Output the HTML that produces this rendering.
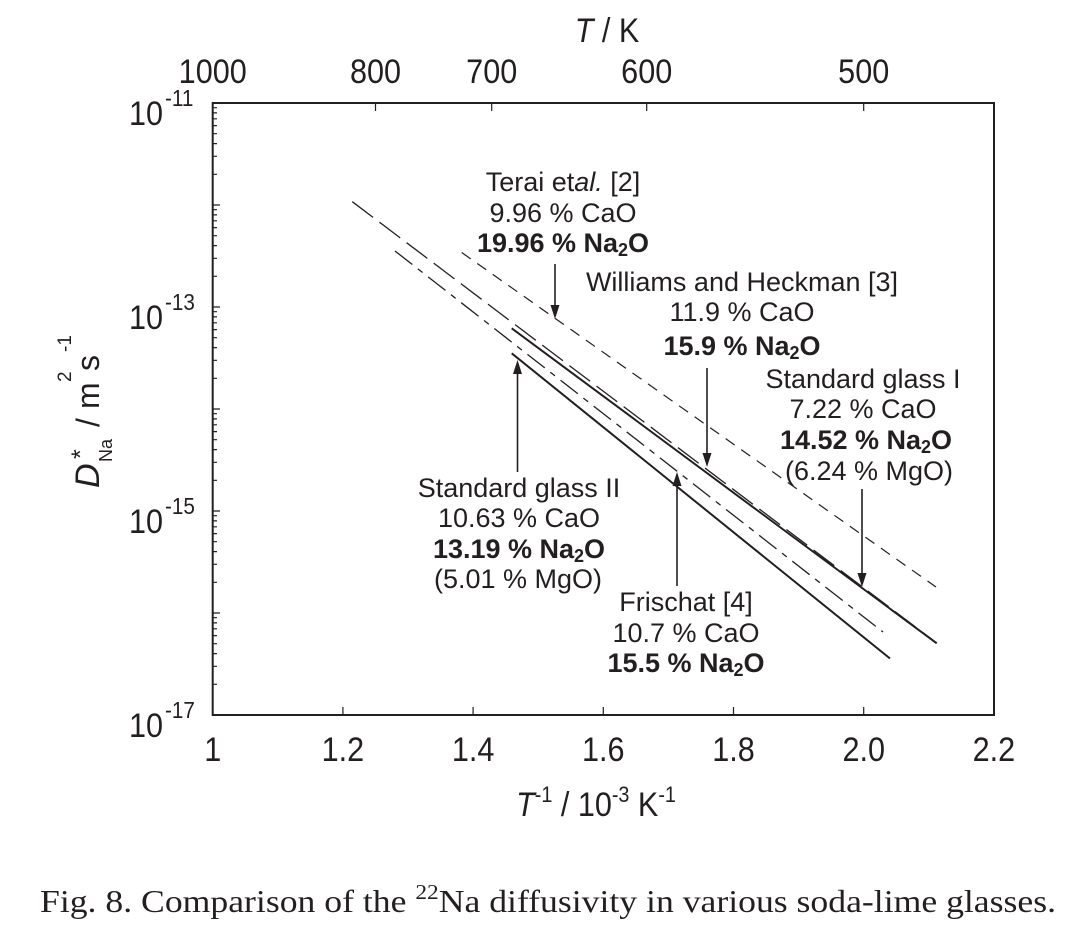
<!DOCTYPE html>
<html>
<head>
<meta charset="utf-8">
<style>
  html, body { margin: 0; padding: 0; background: #ffffff; }
  svg { display: block; }
  .ax { font-family: "Liberation Sans", Arial, sans-serif; fill: #231f20; }
  .an { font-family: "Liberation Sans", Arial, sans-serif; font-size: 27px; fill: #231f20; }
  .b { font-weight: bold; }
</style>
</head>
<body>
<svg width="1070" height="938" viewBox="0 0 1070 938" xmlns="http://www.w3.org/2000/svg">
  <rect x="0" y="0" width="1070" height="938" fill="#ffffff"/>

  <!-- frame -->
  <rect x="212.7" y="103" width="781.3" height="612" fill="none" stroke="#231f20" stroke-width="2"/>

  <!-- ticks -->
  <path stroke="#231f20" stroke-width="1.2" fill="none" d="
    M342.9 715v-8 M473.1 715v-8 M603.3 715v-8 M733.5 715v-8 M863.7 715v-8
    M375.5 103v8 M491.7 103v8 M646.7 103v8 M863.7 103v8
    M213 613h7 M213 511h7 M213 409h7 M213 307h7 M213 205h7
    M213 684.3h4 M213 666.3h4 M213 653.6h4 M213 643.7h4 M213 635.6h4 M213 628.8h4 M213 622.9h4 M213 617.7h4
    M213 582.3h4 M213 564.3h4 M213 551.6h4 M213 541.7h4 M213 533.6h4 M213 526.8h4 M213 520.9h4 M213 515.7h4
    M213 480.3h4 M213 462.3h4 M213 449.6h4 M213 439.7h4 M213 431.6h4 M213 424.8h4 M213 418.9h4 M213 413.7h4
    M213 378.3h4 M213 360.3h4 M213 347.6h4 M213 337.7h4 M213 329.6h4 M213 322.8h4 M213 316.9h4 M213 311.7h4
    M213 276.3h4 M213 258.3h4 M213 245.6h4 M213 235.7h4 M213 227.6h4 M213 220.8h4 M213 214.9h4 M213 209.7h4
    M213 174.3h4 M213 156.3h4 M213 143.6h4 M213 133.7h4 M213 125.6h4 M213 118.8h4 M213 112.9h4 M213 107.7h4
  "/>

  <!-- bottom tick labels -->
  <g class="ax" font-size="34" text-anchor="middle">
    <text transform="translate(212.7,761) scale(0.9,1)">1</text>
    <text transform="translate(342.9,761) scale(0.9,1)">1.2</text>
    <text transform="translate(473.1,761) scale(0.9,1)">1.4</text>
    <text transform="translate(603.3,761) scale(0.9,1)">1.6</text>
    <text transform="translate(733.5,761) scale(0.9,1)">1.8</text>
    <text transform="translate(863.7,761) scale(0.9,1)">2.0</text>
    <text transform="translate(993.9,761) scale(0.9,1)">2.2</text>
  </g>

  <!-- top tick labels -->
  <g class="ax" font-size="34" text-anchor="middle">
    <text transform="translate(212.7,83) scale(0.9,1)">1000</text>
    <text transform="translate(375.5,83) scale(0.9,1)">800</text>
    <text transform="translate(491.7,83) scale(0.9,1)">700</text>
    <text transform="translate(646.7,83) scale(0.9,1)">600</text>
    <text transform="translate(863.7,83) scale(0.9,1)">500</text>
  </g>

  <!-- top axis title -->
  <text class="ax" font-size="34" text-anchor="middle" transform="translate(607,42) scale(0.9,1)"><tspan font-style="italic">T</tspan> / K</text>

  <!-- left tick labels -->
  <g class="ax">
    <text font-size="34" text-anchor="end" transform="translate(163,125) scale(0.9,1)">10</text>
    <text font-size="23" text-anchor="start" transform="translate(165,106) scale(0.9,1)">-11</text>
    <text font-size="34" text-anchor="end" transform="translate(163,329) scale(0.9,1)">10</text>
    <text font-size="23" text-anchor="start" transform="translate(165,310) scale(0.9,1)">-13</text>
    <text font-size="34" text-anchor="end" transform="translate(163,533) scale(0.9,1)">10</text>
    <text font-size="23" text-anchor="start" transform="translate(165,514) scale(0.9,1)">-15</text>
    <text font-size="34" text-anchor="end" transform="translate(163,737) scale(0.9,1)">10</text>
    <text font-size="23" text-anchor="start" transform="translate(165,718) scale(0.9,1)">-17</text>
  </g>

  <!-- bottom axis title -->
  <text class="ax" font-size="34" text-anchor="middle" transform="translate(596,816) scale(0.9,1)"><tspan font-style="italic">T</tspan><tspan font-size="22" dy="-14">-1</tspan><tspan dy="14"> / 10</tspan><tspan font-size="22" dy="-14">-3</tspan><tspan dy="14"> K</tspan><tspan font-size="22" dy="-14">-1</tspan></text>

  <!-- left axis title (rotated) -->
  <g class="ax" transform="translate(99,488) rotate(-90)">
    <text x="0" y="0" font-size="34" font-style="italic">D</text>
    <text x="29" y="-10" font-size="25">*</text>
    <text x="26" y="13" font-size="18">Na</text>
    <text x="61" y="0" font-size="32">/</text>
    <text x="79" y="0" font-size="32">m</text>
    <text x="106" y="-28" font-size="19">2</text>
    <text x="117" y="0" font-size="32">s</text>
    <text x="136" y="-28" font-size="19">-1</text>
  </g>

  <!-- data lines -->
  <g fill="none" stroke="#231f20">
    <!-- Williams and Heckman: long dash -->
    <path d="M352.3 201.7 L936.7 643" stroke-width="1.3" stroke-dasharray="26 8"/>
    <!-- Terai: short dash -->
    <path d="M461.7 252.5 L936 587" stroke-width="1.2" stroke-dasharray="11 8"/>
    <!-- Frischat: dash-dot -->
    <path d="M395 251 L883 632" stroke-width="1.3" stroke-dasharray="22 7 6 7"/>
    <!-- Standard glass I: solid -->
    <path d="M511.7 328.3 L936.7 643.3" stroke-width="2"/>
    <!-- Standard glass II: solid -->
    <path d="M511.7 353.3 L890 658.5" stroke-width="2"/>
  </g>

  <!-- arrows -->
  <g stroke="#231f20" stroke-width="1.6" fill="none">
    <path d="M555 264 V307"/>
    <path d="M707 368 V455"/>
    <path d="M862 489 V575"/>
    <path d="M517.5 472 V372"/>
    <path d="M677 586 V484"/>
  </g>
  <g fill="#231f20" stroke="none">
    <polygon points="550.5,305 559.5,305 555,319"/>
    <polygon points="702.5,453 711.5,453 707,467"/>
    <polygon points="857.5,573 866.5,573 862,587"/>
    <polygon points="513,374 522,374 517.5,360"/>
    <polygon points="672.5,486 681.5,486 677,472"/>
  </g>

  <!-- annotations -->
  <g class="an" text-anchor="middle">
    <!-- Terai -->
    <text x="563" y="191">Terai et<tspan font-style="italic">al.</tspan> [2]</text>
    <text x="563" y="222">9.96 % CaO</text>
    <text x="563" y="252" class="b">19.96 % Na<tspan font-size="18" dy="4">2</tspan><tspan dy="-4">O</tspan></text>

    <!-- Williams and Heckman -->
    <text x="742" y="291">Williams and Heckman [3]</text>
    <text x="742" y="321">11.9 % CaO</text>
    <text x="742" y="355" class="b">15.9 % Na<tspan font-size="18" dy="4">2</tspan><tspan dy="-4">O</tspan></text>

    <!-- Standard glass I -->
    <text x="863" y="388">Standard glass I</text>
    <text x="863" y="418">7.22 % CaO</text>
    <text x="866" y="449" class="b">14.52 % Na<tspan font-size="18" dy="4">2</tspan><tspan dy="-4">O</tspan></text>
    <text x="869" y="480">(6.24 % MgO)</text>

    <!-- Standard glass II -->
    <text x="519" y="497">Standard glass II</text>
    <text x="519" y="527">10.63 % CaO</text>
    <text x="519" y="558" class="b">13.19 % Na<tspan font-size="18" dy="4">2</tspan><tspan dy="-4">O</tspan></text>
    <text x="518" y="588">(5.01 % MgO)</text>

    <!-- Frischat -->
    <text x="686" y="611">Frischat [4]</text>
    <text x="686" y="642">10.7 % CaO</text>
    <text x="686" y="672" class="b">15.5 % Na<tspan font-size="18" dy="4">2</tspan><tspan dy="-4">O</tspan></text>
  </g>

  <!-- caption -->
  <text x="40" y="912" font-family="'Liberation Serif', 'Times New Roman', serif" font-size="32" fill="#231f20" textLength="1016" lengthAdjust="spacingAndGlyphs">Fig. 8. Comparison of the <tspan font-size="21" dy="-13">22</tspan><tspan dy="13">Na diffusivity in various soda-lime glasses.</tspan></text>
</svg>
</body>
</html>
